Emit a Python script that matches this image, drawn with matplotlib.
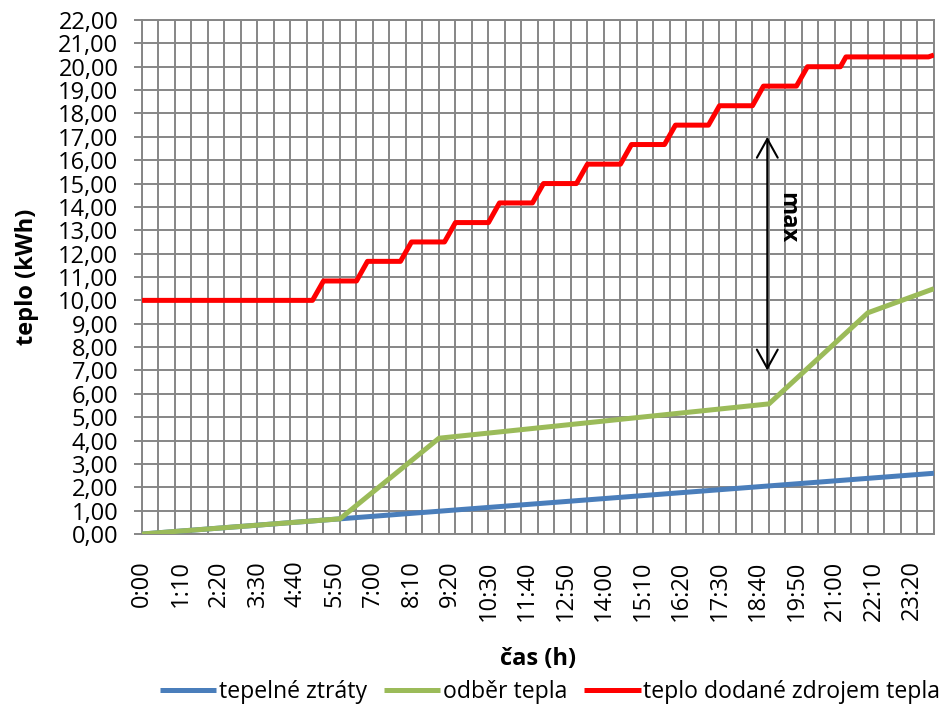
import matplotlib.pyplot as plt
from matplotlib.ticker import MultipleLocator, FuncFormatter

plt.rcParams['font.family'] = ['Open Sans', 'DejaVu Sans']

# time in minutes from midnight, data every 10 min up to 24:00
x_max = 1440
tick_pos = [0, 70, 140, 210, 280, 350, 420, 490, 560, 630, 700,
            770, 840, 910, 980, 1050, 1120, 1190, 1260, 1330, 1400]
tick_labels = ['0:00', '1:10', '2:20', '3:30', '4:40', '5:50', '7:00',
               '8:10', '9:20', '10:30', '11:40', '12:50', '14:00', '15:10',
               '16:20', '17:30', '18:40', '19:50', '21:00', '22:10', '23:20']

# heat losses
loss_t = [0, 1440]
loss_v = [0.0, 2.6]

# heat consumption
use_t = [0, 360, 540, 1140, 1320, 1440]
use_v = [0.0, 0.65, 4.1, 5.57, 9.47, 10.5]

# heat delivered by the source (stepwise)
src_t = [0, 310, 330, 390, 410, 470, 490, 550, 570, 630, 650, 710, 730,
         790, 810, 870, 890, 950, 970, 1030, 1050, 1110, 1130, 1190, 1210,
         1270, 1280, 1430, 1440]
src_v = [10.0, 10.0, 10.83, 10.83, 11.67, 11.67, 12.5, 12.5, 13.33, 13.33,
         14.17, 14.17, 15.0, 15.0, 15.83, 15.83, 16.67, 16.67, 17.5, 17.5,
         18.33, 18.33, 19.17, 19.17, 20.0, 20.0, 20.42, 20.42, 20.5]

# "max" marker between the curves
max_x = 1137
max_lo, max_hi = 7.0, 17.0

grid_c = '#868686'
fs = 17

fig = plt.figure(figsize=(9.53, 7.09), dpi=100)
ax = fig.add_axes([0.149, 0.2468, 0.831, 0.725])

ax.plot(loss_t, loss_v, color='#4A7EBB', lw=3.6, solid_capstyle='butt',
        label='tepelné ztráty', zorder=3)
ax.plot(use_t, use_v, color='#9BBB59', lw=3.6, solid_capstyle='butt',
        label='odběr tepla', zorder=4)
ax.plot(src_t, src_v, color='#FF0000', lw=3.6, solid_capstyle='butt',
        label='teplo dodané zdrojem tepla', zorder=5)

ax.annotate('', xy=(max_x, max_hi), xytext=(max_x, max_lo),
            arrowprops=dict(arrowstyle='<->,head_length=0.45,head_width=0.25',
                            mutation_scale=30, lw=1.5, color='black',
                            shrinkA=0, shrinkB=0), zorder=6)
ax.text(max_x + 36, 13.55, 'max', rotation=-90, ha='center', va='center',
        fontsize=fs, fontweight='bold', zorder=6)

ax.set_xlim(0, x_max)
ax.set_ylim(0, 22)
ax.yaxis.set_major_locator(MultipleLocator(1))
ax.yaxis.set_major_formatter(FuncFormatter(lambda v, p: f'{v:.2f}'.replace('.', ',')))
ax.set_xticks(tick_pos)
ax.set_xticklabels(tick_labels, rotation=90)

ax.grid(False)
for v in range(0, x_max + 1, 30):
    ax.axvline(v, color=grid_c, lw=1.4, zorder=1)
for v in range(0, 23):
    ax.axhline(v, color=grid_c, lw=1.4, zorder=1)

for s in ax.spines.values():
    s.set_color(grid_c)
    s.set_linewidth(1.4)

ax.tick_params(axis='y', length=6, width=1.4, color=grid_c, labelsize=fs, pad=11)
ax.tick_params(axis='x', which='both', length=0, labelsize=fs, pad=19)

ax.set_ylabel('teplo (kWh)', fontsize=fs, fontweight='bold', labelpad=14)
ax.set_xlabel('čas (h)', fontsize=fs, fontweight='bold', labelpad=19)

fig.legend(loc='center', bbox_to_anchor=(0.577, 0.024), ncol=3, frameon=False,
           fontsize=16.6, handlelength=2.45, handletextpad=0.1,
           columnspacing=0.75)

fig.savefig('out.png', dpi=100)
